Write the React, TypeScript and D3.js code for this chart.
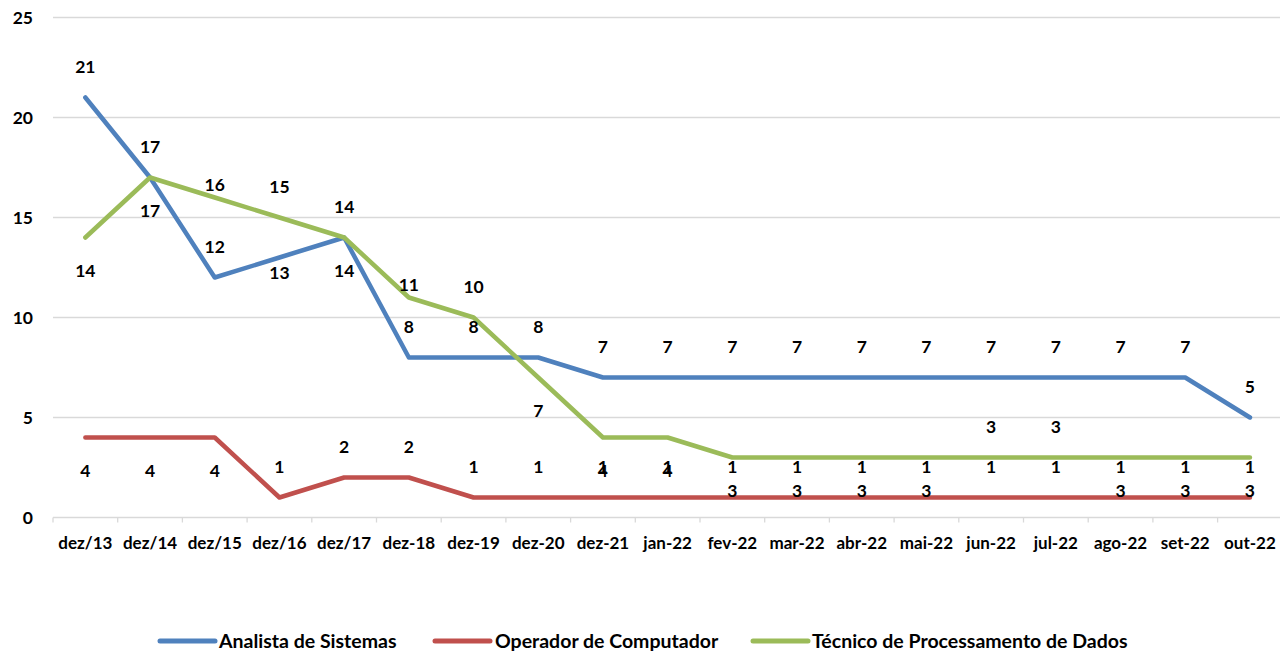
import React from "react";
import * as d3 from "d3";

const categories = [
  "dez/13", "dez/14", "dez/15", "dez/16", "dez/17", "dez-18", "dez-19", "dez-20",
  "dez-21", "jan-22", "fev-22", "mar-22", "abr-22", "mai-22", "jun-22", "jul-22",
  "ago-22", "set-22", "out-22",
];

const analista = [21, 17, 12, 13, 14, 8, 8, 8, 7, 7, 7, 7, 7, 7, 7, 7, 7, 7, 5];
const operador = [4, 4, 4, 1, 2, 2, 1, 1, 1, 1, 1, 1, 1, 1, 1, 1, 1, 1, 1];
const tecnico = [14, 17, 16, 15, 14, 11, 10, 7, 4, 4, 3, 3, 3, 3, 3, 3, 3, 3, 3];

const yTicks = [0, 5, 10, 15, 20, 25];

// label placement codes: a = above, b = below, an = near above, bn = near below
const analistaLabelPos = ["a", "a", "a", "bn", "b", "a", "a", "a", "a", "a", "a", "a", "a", "a", "a", "a", "a", "a", "a"];
const operadorLabelPos = ["b", "b", "b", "a", "a", "a", "a", "a", "a", "a", "a", "a", "a", "a", "a", "a", "a", "a", "a"];
const tecnicoLabelPos = ["b", "b", "an", "a", "a", "an", "a", "b", "b", "b", "b", "b", "b", "b", "a", "a", "b", "b", "b"];

const series = [
  { name: "Analista de Sistemas", values: analista, pos: analistaLabelPos, color: "#4F81BD" },
  { name: "Operador de Computador", values: operador, pos: operadorLabelPos, color: "#C0504D" },
  { name: "Técnico de Processamento de Dados", values: tecnico, pos: tecnicoLabelPos, color: "#9BBB59" },
];

const W = 1280;
const H = 651;
const left = 53;
const band = 64.7;
const FONT = "Lato, 'Open Sans', sans-serif";
const FS = 17.5;

const offsets: Record<string, number> = { a: -31, b: 33, an: -13, bn: 15 };

const legendPos = [
  { line: 160, text: 219 },
  { line: 435, text: 495 },
  { line: 753, text: 812 },
];

export default function App() {
  const x = d3.scaleBand<string>().domain(categories).range([left, left + band * categories.length]);
  const y = d3.scaleLinear().domain([0, 25]).range([517.5, 17.5]);
  const cx = (c: string) => (x(c) as number) + x.bandwidth() / 2;

  const line = d3
    .line<number>()
    .x((_, i) => cx(categories[i]))
    .y((v) => y(v));

  const boundaries = categories.map((c) => x(c) as number);

  return (
    <svg
      width={W}
      height={H}
      style={{ position: "absolute", left: 0, top: 0, background: "#fff" }}
      fontFamily={FONT}
      fontWeight="bold"
    >
      {yTicks.filter((t) => t > 0).map((t) => (
        <line key={t} x1={left} x2={W} y1={y(t)} y2={y(t)} stroke="#D9D9D9" strokeWidth={1.3} />
      ))}
      <line x1={left} x2={W} y1={y(0)} y2={y(0)} stroke="#D9D9D9" strokeWidth={1.3} />
      {boundaries.map((b, i) => (
        <line key={i} x1={b} x2={b} y1={y(0)} y2={y(0) + 5} stroke="#D9D9D9" strokeWidth={1.3} />
      ))}
      {yTicks.map((t) => (
        <text key={t} x={33} y={y(t) + 6} textAnchor="end" fontSize={FS} fill="#000">
          {t}
        </text>
      ))}
      {categories.map((c) => (
        <text key={c} x={cx(c)} y={548.5} textAnchor="middle" fontSize={17} fill="#000">
          {c}
        </text>
      ))}
      {series.map((s) => (
        <path
          key={s.name}
          d={line(s.values) as string}
          fill="none"
          stroke={s.color}
          strokeWidth={4.5}
          strokeLinejoin="round"
          strokeLinecap="round"
        />
      ))}
      {series.map((s) =>
        s.values.map((v, i) => (
          <text
            key={s.name + i}
            x={cx(categories[i])}
            y={y(v) + offsets[s.pos[i]] + 6.3}
            textAnchor="middle"
            fontSize={FS}
            fill="#000"
          >
            {v}
          </text>
        ))
      )}
      {series.map((s, i) => (
        <g key={s.name}>
          <line
            x1={legendPos[i].line}
            x2={legendPos[i].line + 55}
            y1={641}
            y2={641}
            stroke={s.color}
            strokeWidth={5}
            strokeLinecap="round"
          />
          <text x={legendPos[i].text} y={648} fontSize={19.5} fill="#000">
            {s.name}
          </text>
        </g>
      ))}
    </svg>
  );
}
